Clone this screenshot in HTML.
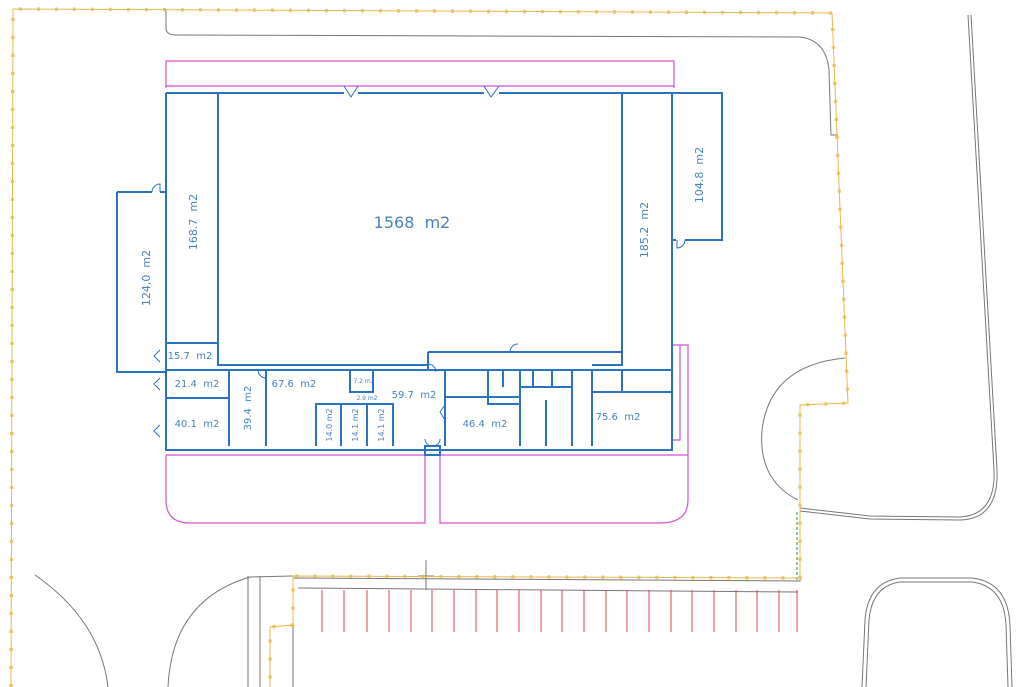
<!DOCTYPE html>
<html><head><meta charset="utf-8"><style>
html,body{margin:0;padding:0;background:#fff;}
svg{display:block;}
text{font-family:"DejaVu Sans","Liberation Sans",sans-serif;fill:#4a82c0;white-space:pre;}
</style></head><body>
<svg width="1024" height="687" viewBox="0 0 1024 687" xmlns="http://www.w3.org/2000/svg">
<!-- roads grey -->
<g fill="none" stroke="#777" stroke-width="1">
<path d="M166 10 L166 28 Q166 35 176 35 L800 37 Q826 40 829 70 L831 135 L838 135"/>
<path d="M968 15 L994 470 Q996 515 960 517 L870 516 L800 508"/>
<path d="M971 15 L997 470 Q999 519 960 520 L870 519 L800 511"/>
<path d="M845 358 Q770 365 762 430 Q758 480 798 500"/>
<path d="M35 575 Q100 620 108 687"/>
<path d="M168 687 Q172 600 250 577 L293 576"/>
<path d="M248 576 L248 687 M260 576 L260 687 M293 577 L293 687"/>
<path d="M293 578 L800 581 L800 520"/>
<path d="M298 588 L798 592"/>
<path d="M862 687 L865 620 Q868 582 900 578 L972 578 Q1008 582 1010 625 L1012 687"/>
<path d="M866 687 L869 620 Q872 586 900 582 L972 582 Q1004 586 1006 625 L1008 687"/>
<path d="M426 560 L426 590 M418 576 L434 576"/>
</g>
<path d="M797 512 L797 580" stroke="#3a8a3a" stroke-width="1" stroke-dasharray="3 2" fill="none"/>
<!-- yellow fence -->
<g fill="none" stroke="#e8b84a">
<path stroke-width="1" d="M11 687 L13 9 L832 13 L848 403 L800 405 L800 578 L293 576 L293 625 L270 627 L270 687"/>
<path stroke-width="3.5" stroke-dasharray="3 15" opacity="0.75" d="M11 687 L13 9 L832 13 L848 403 L800 405 L800 578 L293 576 L293 625 L270 627 L270 687"/>
</g>
<!-- parking stalls -->
<g stroke="#d44" stroke-width="1">
<line x1="322" y1="590" x2="322" y2="632"/><line x1="344" y1="590" x2="344" y2="632"/><line x1="367" y1="590" x2="367" y2="632"/><line x1="389" y1="590" x2="389" y2="632"/><line x1="411" y1="590" x2="411" y2="632"/><line x1="432" y1="590" x2="432" y2="632"/><line x1="454" y1="590" x2="454" y2="632"/><line x1="476" y1="590" x2="476" y2="632"/><line x1="497" y1="590" x2="497" y2="632"/><line x1="519" y1="590" x2="519" y2="632"/><line x1="541" y1="590" x2="541" y2="632"/><line x1="562" y1="590" x2="562" y2="632"/><line x1="584" y1="590" x2="584" y2="632"/><line x1="606" y1="590" x2="606" y2="632"/><line x1="627" y1="590" x2="627" y2="632"/><line x1="649" y1="590" x2="649" y2="632"/><line x1="671" y1="590" x2="671" y2="632"/><line x1="692" y1="590" x2="692" y2="632"/><line x1="714" y1="590" x2="714" y2="632"/><line x1="736" y1="590" x2="736" y2="632"/><line x1="757" y1="590" x2="757" y2="632"/><line x1="779" y1="590" x2="779" y2="632"/><line x1="797" y1="590" x2="797" y2="632"/>
</g>
<!-- magenta -->
<g fill="none" stroke="#d44fd0" stroke-width="1.2">
<path d="M166 88 L166 61 L674 61 L674 88 M166 86 L674 86"/>
<path d="M672 345 L688 345 L688 455 M166 455 L688 455"/>
<path d="M166 455 L166 500 Q166 523 190 523 L425 523 L425 455"/>
<path d="M440 455 L440 523 L660 523 Q688 523 688 500 L688 455"/>
<path d="M680 345 L680 440 L672 440"/>
</g>
<!-- building blue -->
<g fill="none" stroke="#2a73c0" stroke-width="2">
<path d="M166 93 L344 93 M358 93 L484 93 M499 93 L672 93"/>
<path d="M166 93 L166 450 L672 450 L672 93"/>
<path d="M218 93 L218 365 L428 365 M592 365 L622 365 L622 93"/>
<path d="M117 192 L117 372 L166 372 M117 192 L152 192 M160 192 L166 192"/>
<path d="M672 93 L722 93 L722 240 L685 240 M672 240 L676 240"/>
<path d="M166 343 L218 343 M166 370 L622 370 L672 370"/>
<path d="M229 370 L229 446 M266 370 L266 446 M166 398 L229 398"/>
<path d="M350 370 L350 392 L373 392 L373 370"/>
<path d="M316 446 L316 404 L393 404 L393 446 M341 404 L341 446 M367 404 L367 446"/>
<path d="M428 352 L622 352 M428 352 L428 370"/>
<path d="M445 370 L445 446 M445 397 L520 397 M488 370 L488 404 L520 404 M503 370 L503 387 M520 370 L520 446 M533 370 L533 387 M552 370 L552 387 M546 400 L546 446 M572 370 L572 446 M520 387 L572 387 M592 370 L592 446 M592 392 L672 392 M622 370 L622 392"/>
<path d="M425 446 L440 446 L440 455 L425 455 Z"/>
</g>
<g fill="none" stroke="#2a73c0" stroke-width="1">
<path d="M344 86 L351 97 L358 86 M484 86 L491 97 L499 86"/>
<path d="M152 192 A8 8 0 0 1 160 184 L160 192"/>
<path d="M685 240 A8 8 0 0 1 677 248 L677 240"/>
<path d="M258 370 A8 8 0 0 0 266 378 M436 372 A8 8 0 0 0 428 364 M510 352 A8 8 0 0 1 518 344 M432 446 A7 7 0 0 1 425 439 M433 446 A7 7 0 0 0 440 439"/>
<path d="M160 378 L154 384 L160 390 M160 425 L154 431 L160 437 M160 350 L154 356 L160 362 M445 405 L440 412 L445 420"/>
</g>
<!-- labels -->
<text x="412" y="228" font-size="16" text-anchor="middle">1568  m2</text>
<text font-size="11" transform="translate(197,222) rotate(-90)" text-anchor="middle">168.7  m2</text>
<text font-size="11" transform="translate(150,278) rotate(-90)" text-anchor="middle">124,0  m2</text>
<text font-size="11" transform="translate(648,230) rotate(-90)" text-anchor="middle">185.2  m2</text>
<text font-size="11" transform="translate(703,175) rotate(-90)" text-anchor="middle">104.8  m2</text>
<text x="190" y="359" font-size="10" text-anchor="middle">15.7  m2</text>
<text x="197" y="387" font-size="10" text-anchor="middle">21.4  m2</text>
<text x="197" y="427" font-size="10" text-anchor="middle">40.1  m2</text>
<text font-size="10" transform="translate(251,408) rotate(-90)" text-anchor="middle">39.4  m2</text>
<text x="294" y="387" font-size="10" text-anchor="middle">67.6  m2</text>
<text x="364" y="383" font-size="6" text-anchor="middle">7.2 m2</text>
<text x="367" y="400" font-size="6" text-anchor="middle">2.9 m2</text>
<text x="414" y="398" font-size="10" text-anchor="middle">59.7  m2</text>
<text font-size="8" transform="translate(332,425) rotate(-90)" text-anchor="middle">14.0 m2</text>
<text font-size="8" transform="translate(358,425) rotate(-90)" text-anchor="middle">14.1 m2</text>
<text font-size="8" transform="translate(384,425) rotate(-90)" text-anchor="middle">14.1 m2</text>
<text x="485" y="427" font-size="10" text-anchor="middle">46.4  m2</text>
<text x="618" y="420" font-size="10" text-anchor="middle">75.6  m2</text>
</svg>
</body></html>
